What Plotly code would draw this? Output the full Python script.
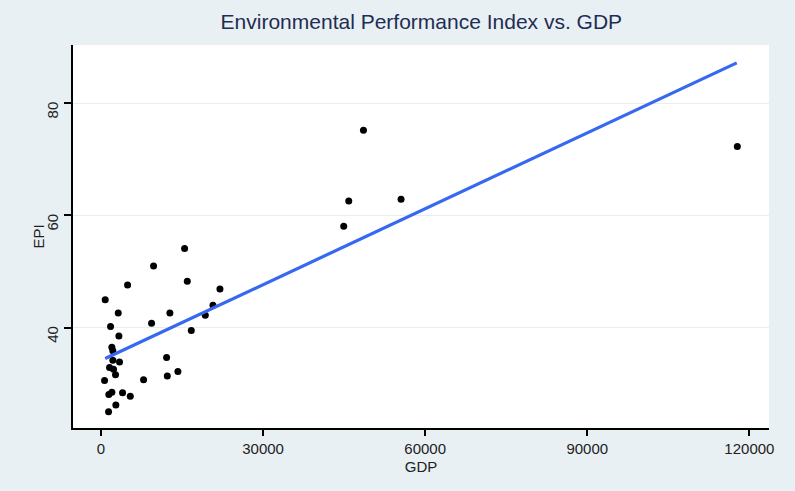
import plotly.graph_objects as go

gdp = [15480, 9740, 15980, 4930, 22020, 790, 20730, 3200, 12760, 19310,
       9370, 1780, 16720, 3320, 2020, 2200, 12150, 2200, 3440, 1590,
       2330, 2700, 14240, 12280, 670, 7890, 1460, 2020, 4000, 5430,
       2760, 1410, 48580, 45860, 55540, 44930, 117770]
epi = [54.1, 51.0, 48.3, 47.6, 46.9, 45.0, 44.0, 42.6, 42.6, 42.2,
       40.8, 40.2, 39.5, 38.5, 36.5, 35.9, 34.7, 34.2, 33.9, 32.9,
       32.6, 31.6, 32.2, 31.4, 30.6, 30.7, 28.1, 28.5, 28.4, 27.8,
       26.2, 25.0, 75.2, 62.6, 62.9, 58.1, 72.3]

# fitted line (linear fit of EPI on GDP)
fit_x = [790, 117660]
fit_y = [34.5, 87.2]

x_ticks = [0, 30000, 60000, 90000, 120000]
y_ticks = [40, 60, 80]

bg = "#E9F0F3"
font = "Liberation Sans, Arial, Helvetica, sans-serif"

fig = go.Figure()
fig.add_trace(go.Scatter(x=gdp, y=epi, mode="markers",
                         marker=dict(color="black", size=7), showlegend=False))
fig.add_trace(go.Scatter(x=fit_x, y=fit_y, mode="lines",
                         line=dict(color="#3668F2", width=3.2), showlegend=False))

fig.update_layout(
    width=795, height=491,
    margin=dict(l=73, r=26, t=45, b=63),
    paper_bgcolor=bg, plot_bgcolor="white",
    font=dict(family=font, size=15, color="#222222"),
    title=dict(text="Environmental Performance Index vs. GDP", x=0.53, xanchor="center",
               y=0.955, yanchor="middle",
               font=dict(family=font, size=21, color="#1E2D53")),
    xaxis=dict(range=[-5170, 123630], tickvals=x_ticks, ticktext=[str(v) for v in x_ticks],
               showgrid=False, zeroline=False, showline=True, linecolor="black", linewidth=1.5,
               ticks="outside", ticklen=6, tickcolor="black", tickwidth=1.5,
               title=dict(text="GDP", standoff=6, font=dict(size=15)), tickfont=dict(size=15)),
    yaxis=dict(range=[22.12, 90.39], tickvals=y_ticks, ticktext=[str(v) for v in y_ticks],
               tickangle=-90, ticklabelshift=9, showgrid=True, gridcolor="#E6EEF0", gridwidth=1,
               zeroline=False, showline=True, linecolor="black", linewidth=1.5,
               ticks="outside", ticklen=7, tickcolor="black", tickwidth=1.5,
               tickfont=dict(size=15)),
    annotations=[dict(text="EPI", textangle=-90, xref="paper", yref="paper",
                      x=0, y=0.5, xanchor="center", yanchor="middle", xshift=-35,
                      showarrow=False, font=dict(family=font, size=15, color="#222222"))],
)
fig.write_html("out.html")
